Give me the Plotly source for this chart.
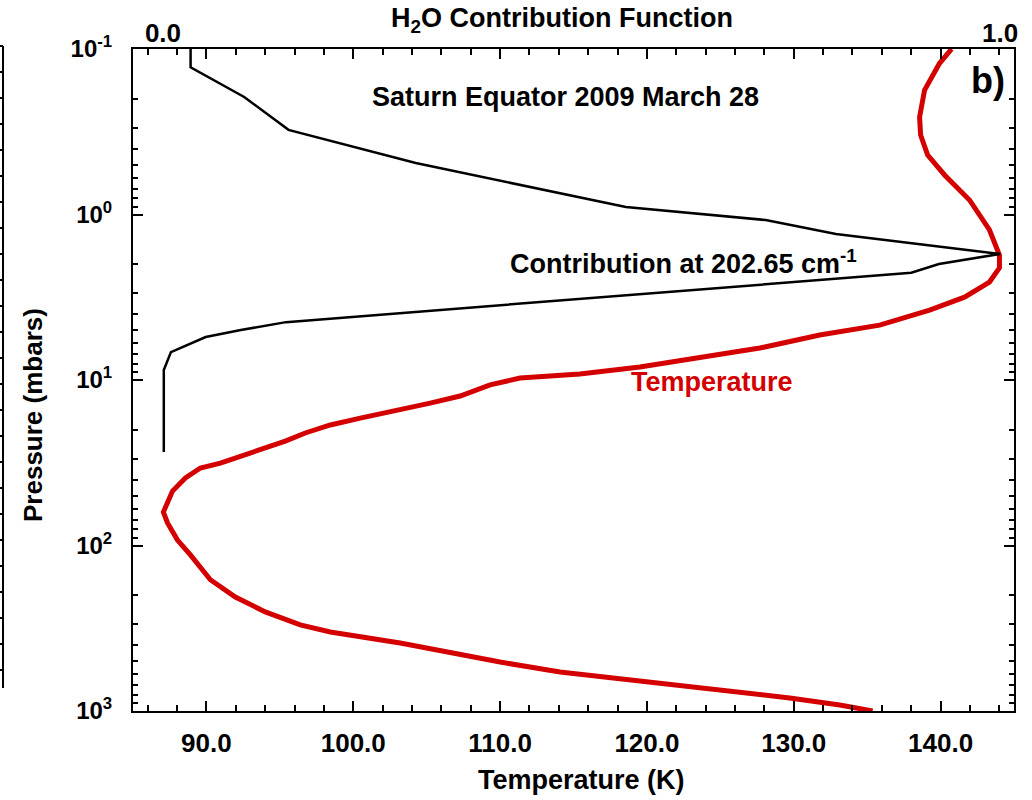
import plotly.graph_objects as go

# ---------------- data ----------------
# Temperature profile (K) vs pressure (mbar)
temp_K = [140.75, 139.93, 138.91, 138.57, 138.64, 139.12, 140.27, 141.97, 143.33, 144.01,
          144.01, 143.33, 141.63, 139.25, 135.85, 131.77, 127.69, 123.61, 119.52, 115.44,
          111.36, 109.32, 107.28, 105.24, 103.20, 100.48, 98.44, 96.73, 95.37, 93.81,
          92.31, 90.95, 89.59, 88.57, 87.69, 87.07, 87.35, 88.03, 88.91, 90.27,
          91.97, 94.01, 96.39, 98.44, 103.20, 106.60, 110.00, 114.08, 119.52, 124.97,
          129.73, 133.13, 135.37]
temp_pressure_mbar = [0.100, 0.122, 0.177, 0.258, 0.331, 0.437, 0.577, 0.817, 1.24, 1.76,
                      2.10, 2.56, 3.16, 3.78, 4.66, 5.35, 6.41, 7.36, 8.34, 9.20,
                      9.73, 10.7, 12.5, 13.8, 15.2, 17.0, 18.7, 20.9, 23.4, 26.1,
                      28.8, 31.8, 34.0, 39.1, 46.9, 62.8, 73.1, 92.7, 114, 161,
                      205, 252, 302, 333, 388, 447, 506, 581, 659, 746,
                      834, 920, 1000]

# H2O contribution function at 202.65 cm-1 (normalised) vs pressure (mbar)
contrib = [0.033, 0.033, 0.097, 0.150, 0.302, 0.427, 0.553, 0.720, 0.804, 1.000,
           0.927, 0.894, 0.147, 0.093, 0.051, 0.0095, 0.001, 0.001]
contrib_pressure_mbar = [0.100, 0.129, 0.195, 0.308, 0.489, 0.664, 0.902, 1.08, 1.31, 1.73,
                         1.99, 2.25, 4.47, 4.99, 5.50, 6.78, 8.71, 27.2]

x_tick_vals = [90, 100, 110, 120, 130, 140]
x_tick_text = ["90.0", "100.0", "110.0", "120.0", "130.0", "140.0"]
top_tick_vals = [0.0, 1.0]
top_tick_text = ["0.0", "1.0"]
y_tick_vals = [0.1, 1, 10, 100, 1000]
y_tick_text = ["10<sup>-1</sup>", "10<sup>0</sup>", "10<sup>1</sup>", "10<sup>2</sup>", "10<sup>3</sup>"]
y_minor_vals = [m * 10 ** e for e in (-1, 0, 1, 2) for m in range(2, 10)]

# ---------------- layout geometry (pixels) ----------------
W, H = 1032, 800
L, R, T, B = 133, 18, 49, 89
PW, PH = W - L - R, H - T - B


def px(x):
    return (x - L) / PW


def py(y):
    return (H - B - y) / PH


FONT = "Liberation Sans, Arial, Helvetica, sans-serif"
RED = "#d40000"

fig = go.Figure()
fig.add_trace(go.Scatter(x=temp_K, y=temp_pressure_mbar, mode="lines",
                         line=dict(color=RED, width=5), xaxis="x", yaxis="y",
                         showlegend=False, hoverinfo="skip"))
fig.add_trace(go.Scatter(x=contrib, y=contrib_pressure_mbar, mode="lines",
                         line=dict(color="black", width=2.5), xaxis="x2", yaxis="y",
                         showlegend=False, hoverinfo="skip"))

fig.update_layout(
    width=W, height=H, autosize=False,
    margin=dict(l=L, r=R, t=T, b=B, pad=0),
    paper_bgcolor="white", plot_bgcolor="white",
    font=dict(family=FONT, color="black", size=26, weight="bold"),
    xaxis=dict(range=[85, 145], domain=[0, 1], showgrid=False, zeroline=False,
               showline=True, linecolor="black", linewidth=2, mirror="ticks",
               ticks="inside", ticklen=10, tickwidth=2, tickcolor="black",
               tickmode="array", tickvals=x_tick_vals, ticktext=x_tick_text,
               tickfont=dict(size=26, family=FONT, weight="bold"),
               ticklabelstandoff=8,
               minor=dict(ticks="inside", ticklen=6, tickwidth=2, tickcolor="black",
                          dtick=2, tick0=0, showgrid=False)),
    xaxis2=dict(overlaying="x", side="top", anchor="y", range=[-0.0358, 1.0167],
                showgrid=False, zeroline=False, showline=False, ticks="",
                tickmode="array", tickvals=top_tick_vals, ticktext=top_tick_text,
                tickfont=dict(size=26, family=FONT, weight="bold"),
                ticklabelstandoff=1),
    yaxis=dict(type="log", range=[3, -1], domain=[0, 1], showgrid=False, zeroline=False,
               showline=True, linecolor="black", linewidth=2, mirror="ticks",
               ticks="inside", ticklen=10, tickwidth=2, tickcolor="black",
               tickmode="array", tickvals=y_tick_vals, ticktext=y_tick_text,
               tickfont=dict(size=24, family=FONT, weight="bold"),
               ticklabelstandoff=14,
               minor=dict(ticks="inside", ticklen=5, tickwidth=2, tickcolor="black",
                          tickmode="array", tickvals=y_minor_vals, showgrid=False)),
)

ann_font = dict(family=FONT, size=27, color="black", weight="bold")
annotations = [
    dict(text="H<sub>2</sub>O Contribution Function", x=px(562), y=py(20),
         xanchor="center", yanchor="middle", font=ann_font),
    dict(text="Saturn Equator 2009 March 28", x=px(565), y=py(97),
         xanchor="center", yanchor="middle", font=ann_font),
    dict(text="b)", x=px(988), y=py(80), xanchor="center", yanchor="middle",
         font=dict(family=FONT, size=36, color="black", weight="bold")),
    dict(text="Contribution at 202.65 cm<sup>-1</sup>", x=px(508), y=py(262),
         xanchor="left", yanchor="middle", font=ann_font),
    dict(text="Temperature", x=px(712), y=py(382), xanchor="center", yanchor="middle",
         font=dict(family=FONT, size=27, color=RED, weight="bold")),
    dict(text="Pressure (mbars)", x=px(33), y=py(415), textangle=-90,
         xanchor="center", yanchor="middle",
         font=dict(family=FONT, size=26, color="black", weight="bold")),
    dict(text="Temperature (K)", x=px(581), y=py(780), xanchor="center",
         yanchor="middle", font=ann_font),
]
for a in annotations:
    a.update(xref="paper", yref="paper", showarrow=False)
fig.update_layout(annotations=annotations)

# fragment of the neighbouring panel at the far left edge
shapes = [dict(type="line", xref="paper", yref="paper", x0=px(3), x1=px(3),
               y0=py(46), y1=py(688), line=dict(color="black", width=2))]
for yy in range(46, 690, 26):
    shapes.append(dict(type="line", xref="paper", yref="paper", x0=px(0), x1=px(3),
                       y0=py(yy), y1=py(yy), line=dict(color="black", width=2)))
fig.update_layout(shapes=shapes)

fig.write_html("out.html", config={"displayModeBar": False},
               post_script="document.body.style.margin='0px';")
